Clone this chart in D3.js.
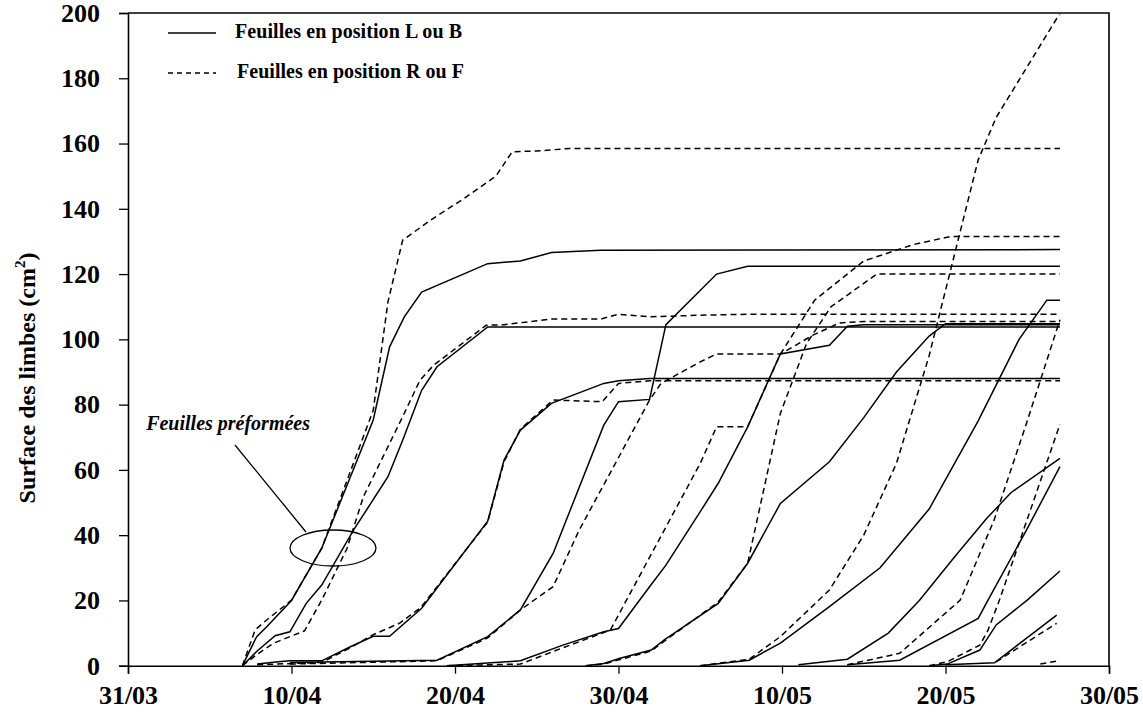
<!DOCTYPE html>
<html><head><meta charset="utf-8">
<script src="https://cdn.jsdelivr.net/npm/d3@7"></script>
<style>body{margin:0;background:#fff}</style>
</head><body><svg id="c" width="1143" height="715"></svg>
<script>
const xTickDays = [0, 10, 20, 30, 40, 50, 60];
const xTickLabels = ["31/03", "10/04", "20/04", "30/04", "10/05", "20/05", "30/05"];
const yTicks = [0, 20, 40, 60, 80, 100, 120, 140, 160, 180, 200];

// [day since 31/03, leaf area cm2]
const leafA = [[7.0,0],[7.77,10.9],[8.28,13.2],[10.0,20.1],[11.85,36],[15.0,78.3],[15.9,111.5],[16.8,130.4],[18.5,136.5],[20.5,143],[22.5,150],[23.5,157.5],[25,157.7],[27,158.5],[57,158.5]];
const leafB = [[7.0,0],[7.87,8.9],[8.5,12],[10.0,20],[11.85,36],[15.0,75.3],[16.0,97.7],[16.9,106.9],[17.96,114.5],[22.0,123.2],[24.0,124],[25.9,126.6],[28.9,127.3],[57,127.5]];
const leafC = [[7.0,0],[7.9,4.5],[9.0,9.2],[9.9,10.4],[10.9,19.1],[11.85,24.7],[13.8,41.6],[15.9,57.9],[16.8,69.1],[17.96,84.4],[18.9,91.6],[22.0,103.8],[57,103.8]];
const leafD = [[7.0,0],[7.9,3.5],[8.9,6.9],[10.8,10.7],[11.85,20.1],[13.4,36],[14.4,51.8],[16.8,76.3],[17.86,87.5],[18.7,92.1],[21.9,104.3],[23,104.5],[25.9,106.2],[28.9,106.2],[30.0,107.7],[31.9,106.9],[35,107.4],[38,107.7],[57,107.7]];
const leafE = [[7.9,0.5],[9.2,1.2],[9.9,1.5],[11.85,1.5],[13.6,5.8],[15.0,9.0],[16.0,9.0],[17.96,17.6],[22.0,44.3],[23.0,63],[24.0,72.2],[25.9,80.4],[29.1,86.5],[30.0,87.3],[31.9,88],[57,88]];
const leafF = [[7.9,0.3],[11.85,1.0],[13.6,5.5],[15.0,9.5],[16.6,13],[17.9,17.8],[22.0,44],[23.0,62.5],[24.0,72.5],[26.0,81.4],[29.0,80.9],[30.0,86.5],[31.9,87.3],[57,87.3]];
const leafG = [[9.9,1.0],[18.9,1.7],[22.0,8.9],[24.0,17.1],[26.0,34.4],[29.1,73.7],[30.0,80.9],[31.9,81.6],[32.9,104.5],[36.0,120],[37.9,122.4],[57,122.4]];
const leafH = [[9.9,0.5],[18.9,1.5],[22.0,8.5],[24.0,17.1],[26.0,24.2],[27.6,41.6],[29.7,61],[31.9,81.4],[32.6,86.5],[35,93.1],[36,95.5],[39.9,95.5],[41.9,101.3],[43.5,105],[45,105.5],[57,105.5]];
const leafI = [[19.5,0],[24.0,1.5],[26.6,6.3],[29.1,10.4],[30.0,11.4],[31.9,24.2],[32.9,30.8],[35.0,47.2],[36.1,55.9],[37.9,73.2],[39.9,95.5],[42.9,98.2],[44,104],[45,104.5],[57,104.5]];
const leafJ = [[19.5,0],[24.0,0.5],[26.6,5.5],[29.5,10.9],[35.0,62],[36.0,73.2],[37.9,73.2],[39.9,95.5],[42,112],[45,124],[48,129],[50.3,131.5],[57,131.5]];
const leafK = [[28,0],[29.1,0.7],[30.1,2.3],[32.0,4.8],[32.8,7.9],[36.1,19.1],[37.9,31.4],[39.9,49.7],[42.9,62.5],[45,76],[47,90],[49,101],[50,104.8],[57,104.8]];
const leafL = [[28,0],[29.1,0.5],[32,4.5],[32.8,7.5],[36.1,19.5],[37.9,31.4],[39.9,77.3],[41.5,98.7],[43,110],[45.8,120],[57,120]];
const leafN = [[35,0],[38,1.7],[39.9,6.9],[42.9,18.1],[46,30],[49,48],[52,75],[54.5,100],[56.2,112],[57,112]];
const leafO = [[35,0],[38,2],[39.9,8.9],[42.9,23.2],[45,40],[47,62],[49,95],[50.5,125],[52,155],[53.1,168],[56.8,198.3],[57,199.5]];
const leafP1 = [[41,0.3],[44,2],[46.5,10],[48.4,20],[50.5,33],[52.5,45],[54,53],[57,63.5]];
const leafQ1 = [[44,0.3],[47.2,1.7],[52.0,14.5],[52.6,20.1],[55,42],[57,61]];
const leafQ2 = [[44,0.3],[47.2,3.8],[50.9,20.1],[53,45],[55,75],[57,106]];
const leafR1 = [[49,0],[50.1,0.5],[52.1,4.8],[53.1,12.5],[55,20.1],[57,29]];
const leafR2 = [[49,0],[50.1,1.2],[52.1,6.3],[52.6,10.9],[53.3,20.1],[57,74]];
const leafS1 = [[50,0.3],[53.0,0.9],[56.8,15.5]];
const leafS2 = [[53.1,1.2],[56.8,13]];
const leafT = [[55.8,0.5],[56.9,1.5]];

const solidSeries = [leafB, leafC, leafE, leafG, leafI, leafK, leafN, leafP1, leafQ1, leafR1, leafS1];
const dashedSeries = [leafA, leafD, leafF, leafH, leafJ, leafL, leafO, leafQ2, leafR2, leafS2, leafT];

const legendLabels = ["Feuilles en position L ou B", "Feuilles en position R ou F"];
const annotationLabel = "Feuilles préformées";
const yTitle = "Surface des limbes (cm";

const svg = d3.select("#c");
const x = d3.scaleLinear().domain([0, 60]).range([128, 1109]);
const y = d3.scaleLinear().domain([0, 200]).range([665.7, 13]);
const serif = "'Liberation Serif','Times New Roman',serif";

const line = d3.line().x(d => x(d[0])).y(d => y(d[1]));

svg.append("path").attr("d", `M${x(0)},${y(200)}H${x(60)}V${y(0)}`).attr("fill","none").attr("stroke","#000").attr("stroke-width",1.6);

const gx = svg.append("g").attr("transform", `translate(0,${y(0)})`)
  .call(d3.axisBottom(x).tickValues(xTickDays).tickSize(8).tickFormat((d,i) => xTickLabels[i]));
const gy = svg.append("g").attr("transform", `translate(${x(0)},0)`)
  .call(d3.axisLeft(y).tickValues(yTicks).tickSize(9).tickPadding(19));
[gx, gy].forEach(g => {
  g.select(".domain").attr("stroke","#000").attr("stroke-width",1.6);
  g.selectAll(".tick line").attr("stroke","#000").attr("stroke-width",1.3);
  g.selectAll("text").attr("fill","#000").attr("font-family",serif).attr("font-weight","bold").attr("font-size",26);
});
gx.selectAll("text").attr("dy", "1.05em");

svg.append("g").selectAll("path").data(solidSeries).join("path")
  .attr("d", line).attr("fill","none").attr("stroke","#000").attr("stroke-width",1.5);
svg.append("g").selectAll("path").data(dashedSeries).join("path")
  .attr("d", line).attr("fill","none").attr("stroke","#000").attr("stroke-width",1.5).attr("stroke-dasharray","6,4");

const lg = svg.append("g");
[0,1].forEach(i => {
  const yy = i === 0 ? 33 : 73;
  lg.append("line").attr("x1",168).attr("x2",216).attr("y1",yy).attr("y2",yy)
    .attr("stroke","#000").attr("stroke-width",1.5).attr("stroke-dasharray", i ? "5,4" : null);
  lg.append("text").attr("x", i ? 237 : 235).attr("y", yy + 5)
    .attr("font-family",serif).attr("font-weight","bold").attr("font-size",20)
    .attr("textLength", 227).attr("lengthAdjust","spacing").text(legendLabels[i]);
});

svg.append("ellipse").attr("cx",333).attr("cy",548).attr("rx",43).attr("ry",18).attr("fill","none").attr("stroke","#000").attr("stroke-width",1.3);
svg.append("line").attr("x1",235).attr("y1",445).attr("x2",306).attr("y2",532).attr("stroke","#000").attr("stroke-width",1.3);
svg.append("text").attr("x",310).attr("y",430).attr("text-anchor","end")
  .attr("font-family",serif).attr("font-weight","bold").attr("font-style","italic").attr("font-size",20)
  .text(annotationLabel);

const t = svg.append("text").attr("transform","translate(35,378) rotate(-90)").attr("text-anchor","middle")
  .attr("font-family",serif).attr("font-weight","bold").attr("font-size",24);
t.append("tspan").text(yTitle);
t.append("tspan").attr("dy",-10).attr("font-size",15).text("2");
t.append("tspan").attr("dy",10).text(")");
</script></body></html>
